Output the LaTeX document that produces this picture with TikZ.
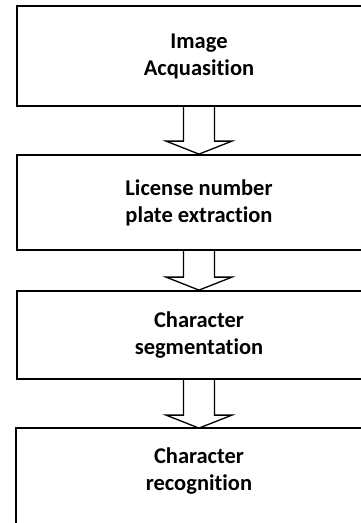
\documentclass[tikz,border=0pt]{standalone}
\usepackage{fontspec}
\setmainfont[Ligatures=NoCommon]{Carlito}
\usetikzlibrary{calc}

\tikzset{
  stage/.style={line width=1.8pt, minimum width=364pt, align=center,
    font=\fontsize{22.5}{27}\selectfont\bfseries, inner sep=0pt},
  hollowarrow/.style={line width=1.3pt, line join=miter}
}

\begin{document}
\begin{tikzpicture}[x=1pt,y=1pt]
                        \useasboundingbox (0,0) rectangle (361,-523);
                        \clip (0,0) rectangle (361,-523);

                        \node[stage, draw, minimum height=100pt] (img) at (199,-56) {Image\\Acquasition};
                        \node[stage, draw, minimum height=95pt] (lpe) at (199,-202.5) {License number\\plate extraction};
                        \node[stage, draw, minimum height=88pt] (seg) at (199,-335) {Character\\segmentation};
                        \node[stage, minimum height=84pt] (rec) at (199,-471) {Character\\recognition};
                        \draw[line width=1.8pt] ($(rec.north west)+(0,-150)$) -- (rec.north west) -- (rec.north east) -- ++(0,-150);

                        \draw[hollowarrow] ($(img.south)+(-15.5,0)$) -- ($(lpe.north)+(-15.5,13)$) -- ++(-17.5,0) -- (lpe.north)
                            -- ($(lpe.north)+(33,13)$) -- ++(-17.5,0) -- ($(img.south)+(15.5,0)$);
                        \draw[hollowarrow] ($(lpe.south)+(-15.5,0)$) -- ($(seg.north)+(-15.5,13)$) -- ++(-17.5,0) -- (seg.north)
                            -- ($(seg.north)+(33,13)$) -- ++(-17.5,0) -- ($(lpe.south)+(15.5,0)$);
                        \draw[hollowarrow] ($(seg.south)+(-15.5,0)$) -- ($(rec.north)+(-15.5,13)$) -- ++(-17.5,0) -- (rec.north)
                            -- ($(rec.north)+(33,13)$) -- ++(-17.5,0) -- ($(seg.south)+(15.5,0)$);
                    \end{tikzpicture}
\end{document}
